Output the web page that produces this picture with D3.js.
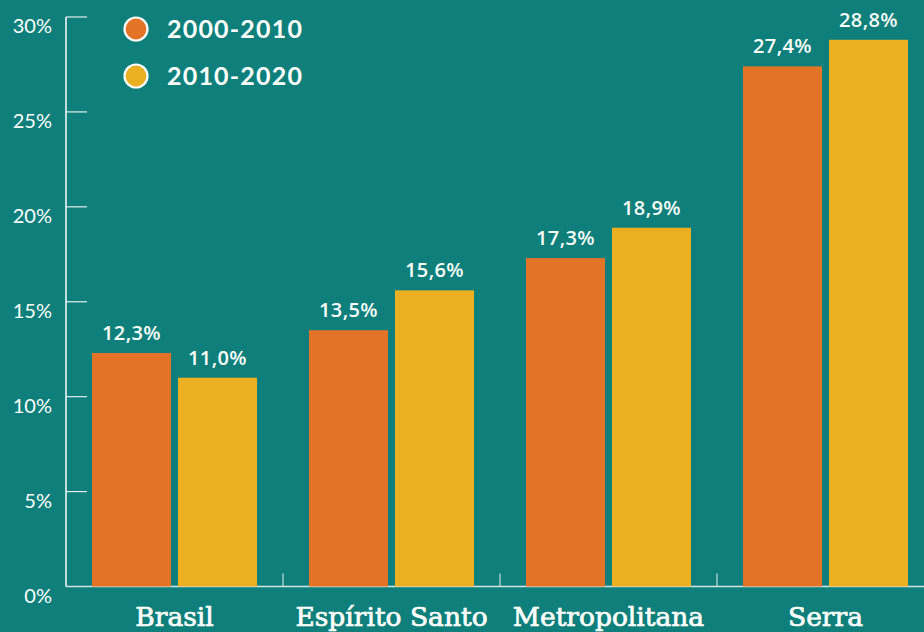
<!DOCTYPE html>
<html>
<head>
<meta charset="utf-8">
<script src="https://cdn.jsdelivr.net/npm/d3@7"></script>
<style>
  body { margin: 0; background: #0e7f7a; }
  svg { display: block; }
</style>
</head>
<body>
<div id="chart"></div>
<script>
const width = 924;
const height = 632;

// data
const categories = ["Brasil", "Espírito Santo", "Metropolitana", "Serra"];
const periods = ["2000-2010", "2010-2020"];
const values2000 = [12.3, 13.5, 17.3, 27.4];
const values2010 = [11.0, 15.6, 18.9, 28.8];
const yTicks = [0, 5, 10, 15, 20, 25, 30];

const bg = "#0e7f7a";
const color = d3.scaleOrdinal().domain(periods).range(["#e37326", "#ebb022"]);

const margin = { left: 66, top: 17, bottom: 45 };

const svg = d3
  .select("#chart")
  .append("svg")
  .attr("width", width)
  .attr("height", height)
  .style("background", bg);

const data = categories.map((c, i) => ({
  cat: c,
  vals: [
    { period: periods[0], value: values2000[i] },
    { period: periods[1], value: values2010[i] },
  ],
}));

//-------scales-------//
const x = d3.scaleBand().domain(categories).range([margin.left, 934]).padding(0);
const xInner = d3
  .scaleBand()
  .domain(periods)
  .range([26, 191])
  .paddingInner(0.0814);
const y = d3.scaleLinear().domain([0, 30]).range([height - margin.bottom - 0.5, margin.top]);

//-------axes-------//
const yAxis = svg.append("g").attr("transform", `translate(${margin.left},0)`);
yAxis
  .append("line")
  .attr("x1", 0)
  .attr("x2", 0)
  .attr("y1", y(30))
  .attr("y2", y(0))
  .attr("stroke", "#ffffff")
  .attr("stroke-width", 1.5);
yAxis
  .selectAll(".tick")
  .data(yTicks)
  .join("g")
  .attr("class", "tick")
  .each(function (d) {
    const g = d3.select(this);
    if (d > 0) {
      g.append("line")
        .attr("x1", 0)
        .attr("x2", 21)
        .attr("y1", y(d))
        .attr("y2", y(d))
        .attr("stroke", "#e6efee")
        .attr("stroke-width", 1.2);
    }
    g.append("text")
      .attr("x", -14)
      .attr("y", y(d) + 16)
      .attr("text-anchor", "end")
      .attr("fill", "#ffffff")
      .style("font-family", "Lato")
      .style("font-weight", 400)
      .style("font-size", "20px")
      .text(d + "%");
  });

// x axis baseline
svg
  .append("line")
  .attr("x1", margin.left)
  .attr("x2", width)
  .attr("y1", y(0))
  .attr("y2", y(0))
  .attr("stroke", "#d4e4e3")
  .attr("stroke-width", 1.5);

// small separators between categories
svg
  .append("g")
  .selectAll("line")
  .data(categories.slice(1))
  .join("line")
  .attr("x1", (d) => x(d))
  .attr("x2", (d) => x(d))
  .attr("y1", y(0))
  .attr("y2", y(0) - 13)
  .attr("stroke", "#c9dcdb")
  .attr("stroke-width", 1.2);

//-------bars-------//
const groups = svg
  .append("g")
  .selectAll("g")
  .data(data)
  .join("g")
  .attr("transform", (d) => `translate(${x(d.cat)},0)`);

groups
  .selectAll("rect")
  .data((d) => d.vals)
  .join("rect")
  .attr("x", (d) => xInner(d.period))
  .attr("y", (d) => y(d.value))
  .attr("width", xInner.bandwidth())
  .attr("height", (d) => y(0) - y(d.value))
  .attr("fill", (d) => color(d.period));

groups
  .selectAll("text")
  .data((d) => d.vals)
  .join("text")
  .attr("x", (d) => xInner(d.period) + xInner.bandwidth() / 2)
  .attr("y", (d) => y(d.value) - 13)
  .attr("text-anchor", "middle")
  .attr("fill", "#ffffff")
  .style("font-family", "Open Sans")
  .style("font-weight", 600)
  .style("font-size", "20px")
  .style("letter-spacing", "0.4px")
  .text((d) => d.value.toFixed(1).replace(".", ",") + "%");

// category labels
svg
  .append("g")
  .selectAll("text")
  .data(categories)
  .join("text")
  .attr("x", (d) => x(d) + x.bandwidth() / 2)
  .attr("y", 626)
  .attr("text-anchor", "middle")
  .attr("fill", "#ffffff")
  .attr("stroke", "#ffffff")
  .attr("stroke-width", 0.7)
  .style("font-family", "DejaVu Serif")
  .style("font-size", "26.5px")
  .text((d) => d);

//-------legend-------//
const legend = svg
  .append("g")
  .selectAll("g")
  .data(periods)
  .join("g")
  .attr("transform", (d, i) => `translate(136,${29 + i * 47})`);

legend
  .append("circle")
  .attr("r", 11.5)
  .attr("fill", (d) => color(d))
  .attr("stroke", "#ffffff")
  .attr("stroke-width", 2.2);

legend
  .append("text")
  .attr("x", 31)
  .attr("y", 9)
  .attr("fill", "#ffffff")
  .style("font-family", "Lato")
  .style("font-weight", 700)
  .style("font-size", "25px")
  .style("letter-spacing", "1.2px")
  .text((d) => d);
</script>
</body>
</html>
